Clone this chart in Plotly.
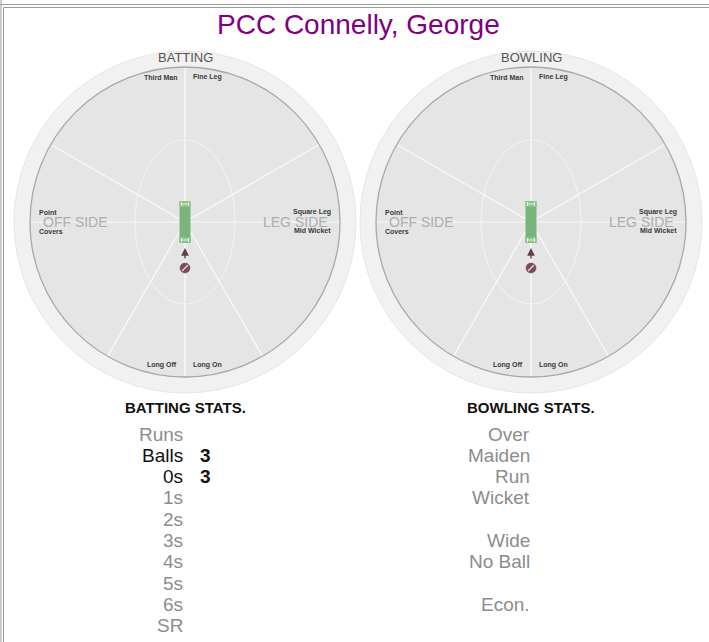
import math
import plotly.graph_objects as go

# ---------------- data ----------------
title_text = "PCC Connelly, George"
wheel_titles = ["BATTING", "BOWLING"]
field_positions = ["Third Man", "Fine Leg", "Point", "Covers",
                   "Square Leg", "Mid Wicket", "Long Off", "Long On"]
side_labels = ["OFF SIDE", "LEG SIDE"]

batting_header = "BATTING STATS."
batting_labels = ["Runs", "Balls", "0s", "1s", "2s", "3s", "4s", "5s", "6s", "SR"]
batting_values = ["", "3", "3", "", "", "", "", "", "", ""]

bowling_header = "BOWLING STATS."
bowling_labels = ["Over", "Maiden", "Run", "Wicket", "", "Wide", "No Ball", "", "Econ.", ""]
bowling_values = ["", "", "", "", "", "", "", "", "", ""]

# ---------------- layout geometry ----------------
W, H = 709, 642
centers = [(185, 222), (531, 222)]
R_OUT, R_IN = 171, 155
FONT = "Arial, Liberation Sans, Helvetica, sans-serif"

shapes = []
annotations = []

# frame (table borders)
border = "#9a9a9a"
shapes += [
    dict(type="line", x0=0, x1=W, y0=4.5, y1=4.5, line=dict(color=border, width=1)),
    dict(type="line", x0=3.5, x1=W, y0=7.5, y1=7.5, line=dict(color=border, width=1)),
    dict(type="line", x0=1, x1=1, y0=0, y1=H, line=dict(color=border, width=1)),
    dict(type="line", x0=3.5, x1=3.5, y0=7.5, y1=H, line=dict(color=border, width=1)),
]

for wi, (cx, cy) in enumerate(centers):
    # outer ring
    shapes.append(dict(type="circle", x0=cx - R_OUT, x1=cx + R_OUT, y0=cy - R_OUT, y1=cy + R_OUT,
                       fillcolor="#f1f1f1", line=dict(color="#e6e6e6", width=1), layer="below"))
    # field
    shapes.append(dict(type="circle", x0=cx - R_IN, x1=cx + R_IN, y0=cy - R_IN, y1=cy + R_IN,
                       fillcolor="#e5e5e5", line=dict(color="#a9a9a9", width=1.3), layer="below"))
    # 30 yard ellipse
    shapes.append(dict(type="circle", x0=cx - 50, x1=cx + 50, y0=cy - 82, y1=cy + 82,
                       fillcolor="rgba(0,0,0,0)", line=dict(color="#f4f4f4", width=1), layer="below"))
    # spokes
    for ang in [0, 30, 90, 150, 180, 240, 270, 300]:
        a = math.radians(ang)
        shapes.append(dict(type="line", x0=cx, y0=cy,
                           x1=cx + (R_IN - 1) * math.cos(a), y1=cy - (R_IN - 1) * math.sin(a),
                           line=dict(color="#fafafa", width=1.2), layer="below"))
    # pitch
    shapes.append(dict(type="rect", x0=cx - 5.5, x1=cx + 5.5, y0=201, y1=243,
                       fillcolor="#79b47a", line=dict(width=0)))
    for (ya, yb) in [(201, 207), (237, 243)]:
        shapes.append(dict(type="rect", x0=cx - 5.5, x1=cx + 5.5, y0=ya, y1=yb,
                           fillcolor="#8cc28c", line=dict(width=0)))
        ym = (ya + yb) / 2
        shapes.append(dict(type="line", x0=cx - 4, x1=cx + 4, y0=ym, y1=ym,
                           line=dict(color="#e8f4e8", width=1)))
        for xx in (cx - 3.5, cx + 3.5):
            shapes.append(dict(type="line", x0=xx, x1=xx, y0=ya + 1, y1=yb - 1,
                               line=dict(color="#e8f4e8", width=1)))
    # ball
    shapes.append(dict(type="circle", x0=cx - 5, x1=cx + 5, y0=263, y1=273,
                       fillcolor="#7a4c58", line=dict(color="#6a3e4a", width=0.5)))
    shapes.append(dict(type="line", x0=cx - 3, x1=cx + 3, y0=271, y1=265,
                       line=dict(color="#e9dde0", width=1.2)))
    # arrow
    annotations.append(dict(x=cx, y=248, ax=cx, ay=260, xref="x", yref="y", axref="x", ayref="y",
                            text="", showarrow=True, arrowhead=2, arrowsize=1.1, arrowwidth=1.4,
                            arrowcolor="#5e4146"))

    # wheel title
    annotations.append(dict(x=cx, y=57, text=wheel_titles[wi], showarrow=False,
                            font=dict(family=FONT, size=13, color="#555555"),
                            xanchor="center", yanchor="middle"))
    # side labels
    annotations.append(dict(x=cx - 110, y=222, text=side_labels[0], showarrow=False,
                            font=dict(family=FONT, size=14, color="#adadad"),
                            xanchor="center", yanchor="middle"))
    annotations.append(dict(x=cx + 110, y=222, text=side_labels[1], showarrow=False,
                            font=dict(family=FONT, size=14, color="#adadad"),
                            xanchor="center", yanchor="middle"))
    # field position labels
    small = dict(family=FONT, size=7, color="#3a3a3a")
    pos_specs = [
        (cx - 6, 77, "right"), (cx + 6, 77, "left"),
        (cx - 148, 212, "left"), (cx - 148, 231, "left"),
        (cx + 148, 212, "right"), (cx + 148, 230, "right"),
        (cx - 6, 365, "right"), (cx + 6, 365, "left"),
    ]
    for name, (px, py, anc) in zip(field_positions, pos_specs):
        annotations.append(dict(x=px, y=py, text="<b>" + name + "</b>", showarrow=False,
                                font=small, xanchor=anc, yanchor="middle"))

# title
annotations.append(dict(x=358, y=24, text=title_text, showarrow=False,
                        font=dict(family=FONT, size=28, color="#800080"),
                        xanchor="center", yanchor="middle"))

# stats headers
annotations.append(dict(x=185, y=407, text="<b>" + batting_header + "</b>", showarrow=False,
                        font=dict(family=FONT, size=15, color="#111111"), xanchor="center", yanchor="middle"))
annotations.append(dict(x=531, y=407, text="<b>" + bowling_header + "</b>", showarrow=False,
                        font=dict(family=FONT, size=15, color="#111111"), xanchor="center", yanchor="middle"))

row_y0, row_dy = 434, 21.3
ROW_SIZE = 19
for i, (lab, val) in enumerate(zip(batting_labels, batting_values)):
    y = row_y0 + i * row_dy
    col = "#111111" if val else "#8c8c8c"
    if lab:
        annotations.append(dict(x=185, y=y, text=lab, showarrow=False,
                                font=dict(family=FONT, size=ROW_SIZE, color=col), xanchor="right", yanchor="middle"))
    if val:
        annotations.append(dict(x=198, y=y, text="<b>" + val + "</b>", showarrow=False,
                                font=dict(family=FONT, size=ROW_SIZE, color="#111111"), xanchor="left", yanchor="middle"))

for i, (lab, val) in enumerate(zip(bowling_labels, bowling_values)):
    y = row_y0 + i * row_dy
    col = "#111111" if val else "#8c8c8c"
    if lab:
        annotations.append(dict(x=532, y=y, text=lab, showarrow=False,
                                font=dict(family=FONT, size=ROW_SIZE, color=col), xanchor="right", yanchor="middle"))
    if val:
        annotations.append(dict(x=545, y=y, text="<b>" + val + "</b>", showarrow=False,
                                font=dict(family=FONT, size=ROW_SIZE, color="#111111"), xanchor="left", yanchor="middle"))

fig = go.Figure()
fig.add_trace(go.Scatter(x=[0, W], y=[0, H], mode="markers", marker=dict(opacity=0), hoverinfo="skip",
                         showlegend=False))
fig.update_layout(
    width=W, height=H, margin=dict(l=0, r=0, t=0, b=0),
    paper_bgcolor="white", plot_bgcolor="white",
    xaxis=dict(range=[0, W], visible=False, fixedrange=True),
    yaxis=dict(range=[H, 0], visible=False, fixedrange=True),
    shapes=shapes, annotations=annotations, showlegend=False,
)
fig.write_html("out.html", config={"displayModeBar": False},
               post_script="document.body.style.margin='0';document.body.style.overflow='hidden';")
